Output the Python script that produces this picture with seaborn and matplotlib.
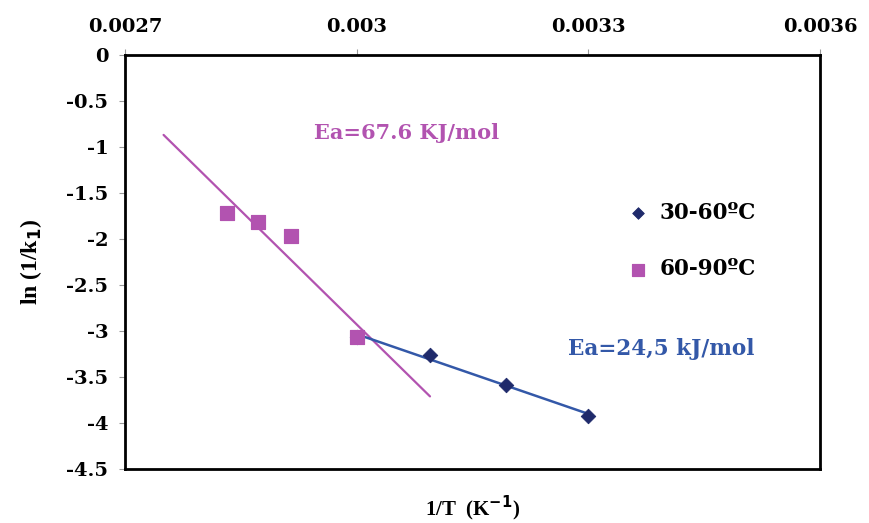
import numpy as np
import pandas as pd
import seaborn as sns
import matplotlib.pyplot as plt

# 1/T (K^-1) and ln(1/k1)
x_low = [0.003, 0.003095, 0.003194, 0.0033]      # 30-60 C
y_low = [-3.07, -3.26, -3.59, -3.92]
x_high = [0.002832, 0.002872, 0.002915, 0.003]   # 60-90 C
y_high = [-1.72, -1.815, -1.97, -3.07]
trend_low_range = [0.003, 0.0033]
trend_high_range = [0.00275, 0.003095]

x_ticks = [0.0027, 0.003, 0.0033, 0.0036]
x_ticklabels = ["0.0027", "0.003", "0.0033", "0.0036"]
y_ticks = [0, -0.5, -1, -1.5, -2, -2.5, -3, -3.5, -4, -4.5]
y_ticklabels = ["0", "-0.5", "-1", "-1.5", "-2", "-2.5", "-3", "-3.5", "-4", "-4.5"]

blue_mk = "#1f2a6b"
blue_ln = "#3358a8"
pink = "#b253b0"

sns.set_style("white")
fig = plt.figure(figsize=(8.69, 5.23), dpi=100)
ax = fig.add_axes([0.1438, 0.1033, 0.7998, 0.7916])

# trendlines (least squares, like the Excel trendline)
p_low = np.polyfit(x_low, y_low, 1)
p_high = np.polyfit(x_high, y_high, 1)
tl = pd.DataFrame({"x": trend_low_range, "y": np.polyval(p_low, trend_low_range)})
th = pd.DataFrame({"x": trend_high_range, "y": np.polyval(p_high, trend_high_range)})
sns.lineplot(data=th, x="x", y="y", color=pink, lw=1.6, ax=ax, zorder=2)
sns.lineplot(data=tl, x="x", y="y", color=blue_ln, lw=1.8, ax=ax, zorder=2)

low = pd.DataFrame({"x": x_low, "y": y_low})
high = pd.DataFrame({"x": x_high, "y": y_high})
sns.scatterplot(data=low, x="x", y="y", marker="D", s=55, color=blue_mk,
                edgecolor=blue_mk, ax=ax, zorder=3, label="30-60ºC")
sns.scatterplot(data=high, x="x", y="y", marker="s", s=110, color=pink,
                edgecolor=pink, ax=ax, zorder=4, label="60-90ºC")

ax.set_xlim(0.0027, 0.0036)
ax.set_ylim(-4.5, 0)
ax.xaxis.tick_top()
ax.set_xticks(x_ticks)
ax.set_xticklabels(x_ticklabels)
ax.set_yticks(y_ticks)
ax.set_yticklabels(y_ticklabels)
for lab in ax.get_xticklabels() + ax.get_yticklabels():
    lab.set_fontfamily("DejaVu Serif")
    lab.set_fontweight("bold")
    lab.set_fontsize(14)
    lab.set_color("black")
ax.tick_params(axis="x", which="both", top=True, bottom=False, length=4,
               width=0.8, color="#999999", pad=10)
ax.tick_params(axis="y", which="both", left=True, length=4, width=0.8,
               color="#999999", pad=8)

for sp in ax.spines.values():
    sp.set_color("black")
    sp.set_linewidth(2)

ax.xaxis.set_label_position("bottom")
ax.set_xlabel("1/T  (K$^{\\mathbf{-1}}$)", family="Liberation Serif",
              fontweight="bold", fontsize=15, labelpad=18, color="black")
ax.set_ylabel("ln (1/k$_{\\mathbf{1}}$)", family="Liberation Serif",
              fontweight="bold", fontsize=17, labelpad=16, color="black")

ax.text(0.003065, -0.85, "Ea=67.6 KJ/mol", color=pink, family="DejaVu Serif",
        fontweight="bold", fontsize=15, ha="center", va="center")
ax.text(0.003395, -3.2, "Ea=24,5 kJ/mol", color=blue_ln, family="DejaVu Serif",
        fontweight="bold", fontsize=15.5, ha="center", va="center")

leg = ax.legend(loc="center left", bbox_to_anchor=(0.695, 0.55), frameon=False,
                handletextpad=0.0, labelspacing=1.6, borderaxespad=0,
                prop={"family": "DejaVu Serif", "weight": "bold", "size": 15.5},
                markerscale=0.8)
for t in leg.get_texts():
    t.set_color("black")

fig.savefig("out.png", dpi=100)
